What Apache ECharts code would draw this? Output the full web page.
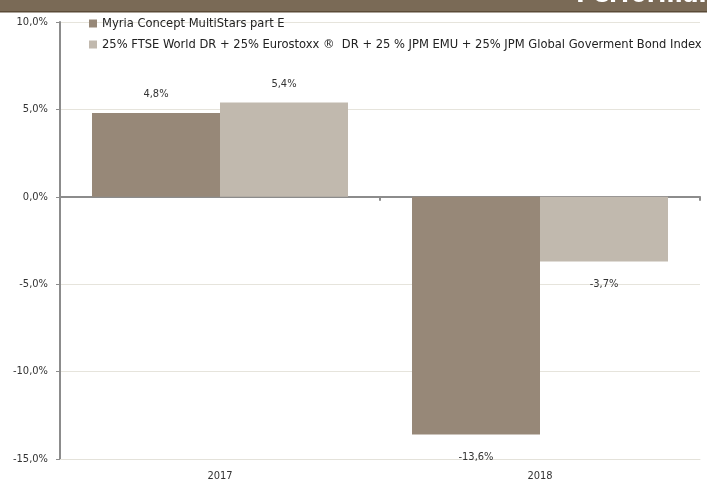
<!DOCTYPE html>
<html lang="fr">

<head>
    <meta charset="UTF-8">
    <title>Performance</title>
    <script src="https://cdn.jsdelivr.net/npm/echarts@6/dist/echarts.min.js"></script>
    <style>
        * {
            margin: 0;
            padding: 0;
        }

        #main {
            width: 707px;
            height: 482px;
            background: #fff;
        }
    </style>
</head>

<body>
    <div id="main"></div>
    <script>
        let categories = ['2017', '2018'];
        let seriesNames = [
            'Myria Concept MultiStars part E',
            '25% FTSE World DR + 25% Eurostoxx \u00ae  DR + 25 % JPM EMU + 25% JPM Global Goverment Bond Index'
        ];
        let fundValues = [4.8, -13.6];
        let indexValues = [5.4, -3.7];
        let colors = ['#978878', '#c1b9ae'];

        let font = '"DejaVu Sans Condensed", "Liberation Sans", sans-serif';

        function fmt(v) {
            return v.toFixed(1).replace('.', ',') + '%';
        }

        // labels above positive bars, below negative ones
        function barData(values) {
            return values.map(function (v) {
                return {
                    value: v,
                    label: {
                        position: v < 0 ? 'bottom' : 'top',
                        distance: v < 0 ? 17 : 13
                    }
                };
            });
        }

        function makeSeries(i, values) {
            return {
                name: seriesNames[i],
                type: 'bar',
                barGap: 0,
                barCategoryGap: '20%',
                itemStyle: { color: colors[i] },
                label: {
                    show: true,
                    fontFamily: font,
                    fontSize: 11,
                    color: '#333',
                    formatter: function (p) { return fmt(p.value); }
                },
                data: barData(values)
            };
        }

        let myChart = echarts.init(document.getElementById('main'));
        myChart.setOption({
            animation: false,
            textStyle: { fontFamily: font },
            graphic: [{
                type: 'rect',
                shape: { x: 0, y: 0, width: 707, height: 12 },
                style: { fill: '#7a6a56' },
                z: 10
            }, {
                type: 'rect',
                shape: { x: 0, y: 11, width: 707, height: 1.5 },
                style: { fill: '#5a4a37' },
                z: 11
            }, {
                // page title, mostly cut off above the frame
                type: 'text',
                x: 576,
                y: -18,
                z: 12,
                style: {
                    text: 'Performance',
                    fill: '#ffffff',
                    fontSize: 26,
                    fontWeight: 'bold',
                    fontFamily: font
                }
            }],
            legend: {
                orient: 'vertical',
                left: 84,
                top: 12,
                itemWidth: 8,
                itemHeight: 8,
                itemGap: 8,
                icon: 'rect',
                textStyle: { fontSize: 12.8, color: '#222', fontFamily: font },
                data: seriesNames
            },
            grid: { left: 60, right: 7, top: 22, bottom: 23 },
            xAxis: [{
                type: 'category',
                data: categories,
                position: 'bottom',
                axisLine: { onZero: false, lineStyle: { color: '#e4e2da' } },
                axisTick: { show: false },
                axisLabel: { fontSize: 11, color: '#333', margin: 12 }
            }, {
                type: 'category',
                data: categories,
                axisLine: { onZero: true, lineStyle: { color: '#8c8c8c', width: 2 } },
                axisTick: { show: true, inside: true, length: 4, lineStyle: { color: '#8c8c8c', width: 2 } },
                axisLabel: { show: false }
            }],
            yAxis: {
                type: 'value',
                min: -15,
                max: 10,
                interval: 5,
                axisLine: { show: true, lineStyle: { color: '#8c8c8c', width: 2 } },
                axisTick: { show: true, length: 4, lineStyle: { color: '#8c8c8c' } },
                axisLabel: {
                    fontSize: 11,
                    color: '#333',
                    margin: 12,
                    formatter: function (v) { return fmt(v); }
                },
                splitLine: { lineStyle: { color: '#e6e4dc' } }
            },
            series: [makeSeries(0, fundValues), makeSeries(1, indexValues)]
        });
    </script>
</body>

</html>
